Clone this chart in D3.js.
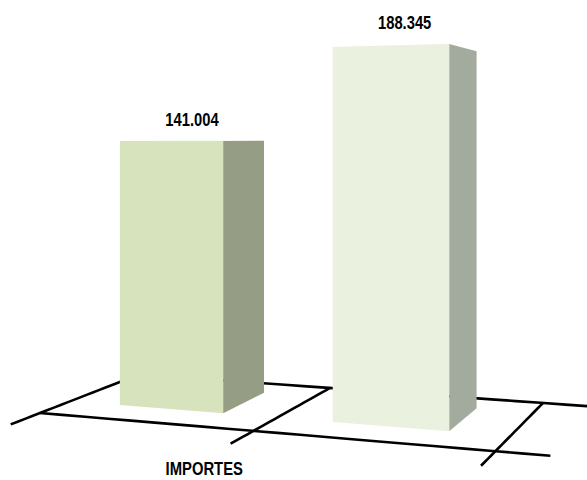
<!DOCTYPE html>
<html><head><meta charset="utf-8">
<script src="https://cdn.jsdelivr.net/npm/d3@7"></script>
<style>html,body{margin:0;padding:0;background:#fff;}</style>
</head><body>
<svg id="chart" width="587" height="480"></svg>
<script>
// ---- data ----
const categories = ["IMPORTES"];
const seriesNames = ["Serie 1", "Serie 2"];
const seriesValues = [141004, 188345];
const valueDomain = [0, 200000];

// ---- style ----
const frontColors = ["#D7E3BD", "#EBF1DF"];
const sideColors = ["#959E85", "#A3AB9E"];
const topColors = ["#E4EBD4", "#F3F7EC"];

const svg = d3.select("#chart");

// perspective floor: homography from (u,v) floor coordinates to screen
function homography(src, dst) {
  const A = [], b = [];
  for (let i = 0; i < 4; i++) {
    const [x, y] = src[i], [X, Y] = dst[i];
    A.push([x, y, 1, 0, 0, 0, -x * X, -y * X]); b.push(X);
    A.push([0, 0, 0, x, y, 1, -x * Y, -y * Y]); b.push(Y);
  }
  const n = 8;
  for (let c = 0; c < n; c++) {
    let p = c;
    for (let r = c + 1; r < n; r++) if (Math.abs(A[r][c]) > Math.abs(A[p][c])) p = r;
    [A[c], A[p]] = [A[p], A[c]]; [b[c], b[p]] = [b[p], b[c]];
    for (let r = 0; r < n; r++) {
      if (r === c) continue;
      const f = A[r][c] / A[c][c];
      for (let k = c; k < n; k++) A[r][k] -= f * A[c][k];
      b[r] -= f * b[c];
    }
  }
  return b.map((v, i) => v / A[i][i]);
}
const Hm = homography([[0,0],[2,0],[2,1],[0,1]], [[40,413],[495.4,451.2],[543,403],[139,374.5]]);
function proj(u, v) {
  const w = Hm[6]*u + Hm[7]*v + 1;
  return [(Hm[0]*u + Hm[1]*v + Hm[2]) / w, (Hm[3]*u + Hm[4]*v + Hm[5]) / w];
}

const xBand = d3.scaleBand().domain(seriesNames).range([0, 2]).paddingInner(0.5).paddingOuter(0.25);
const depth = [0.28, 0.78];
const yScale = d3.scaleLinear().domain(valueDomain).range([0, 374.5]);
const HORIZON = 137, REF = 268;
function lift(p, val) {
  const h = yScale(val) * (p[1] - HORIZON) / REF;
  return [p[0], p[1] - h];
}

// floor lines
const ov = 0.25, ovu = 0.21;
const floorLines = [
  [[0, -ov], [0, 1]],
  [[1, -ov], [1, 1]],
  [[2, -ov], [2, 1]],
  [[0, 0], [2 + ovu, 0]],
  [[0, 1], [2 + ovu, 1]]
];
const line = d3.line();
svg.append("g").selectAll("path").data(floorLines).join("path")
  .attr("d", d => line(d3.range(0, 21).map(i => {
    const t = i / 20;
    return proj(d[0][0] + (d[1][0] - d[0][0]) * t, d[0][1] + (d[1][1] - d[0][1]) * t);
  })))
  .attr("fill", "none").attr("stroke", "#000").attr("stroke-width", 2.6);

// bars
const fmt = d3.formatLocale({decimal: ",", thousands: ".", grouping: [3], currency: ["", ""]}).format(",d");
const bars = svg.append("g");
seriesNames.forEach((s, i) => {
  const u0 = xBand(s), u1 = u0 + xBand.bandwidth();
  const val = seriesValues[i];
  const A = proj(u0, depth[0]), B = proj(u1, depth[0]), C = proj(u1, depth[1]), D = proj(u0, depth[1]);
  const At = lift(A, val), Bt = lift(B, val), Ct = lift(C, val), Dt = lift(D, val);
  const g = bars.append("g");
  g.append("path").attr("d", line([At, Bt, Ct, Dt]) + "Z").attr("fill", topColors[i]);
  g.append("path").attr("d", line([B, C, Ct, Bt]) + "Z").attr("fill", sideColors[i]);
  g.append("path").attr("d", line([A, B, Bt, At]) + "Z").attr("fill", frontColors[i]);
  const cx = (A[0] + C[0]) / 2;
  const ty = Math.min(At[1], Bt[1]) - 15;
  g.append("text")
    .attr("transform", `translate(${cx},${ty}) scale(0.82,1)`)
    .attr("text-anchor", "middle")
    .attr("font-family", "'Liberation Sans', Arial, sans-serif")
    .attr("font-weight", "bold").attr("font-size", 18).attr("fill", "#000")
    .text(fmt(val));
});

// category label
const lp = proj(0.78, 0);
svg.append("text")
  .attr("transform", `translate(${lp[0]},${lp[1] + 48}) scale(0.8,1)`)
  .attr("text-anchor", "middle")
  .attr("font-family", "'Liberation Sans', Arial, sans-serif")
  .attr("font-weight", "bold").attr("font-size", 18.5).attr("fill", "#000")
  .text(categories[0]);
</script>
</body></html>
